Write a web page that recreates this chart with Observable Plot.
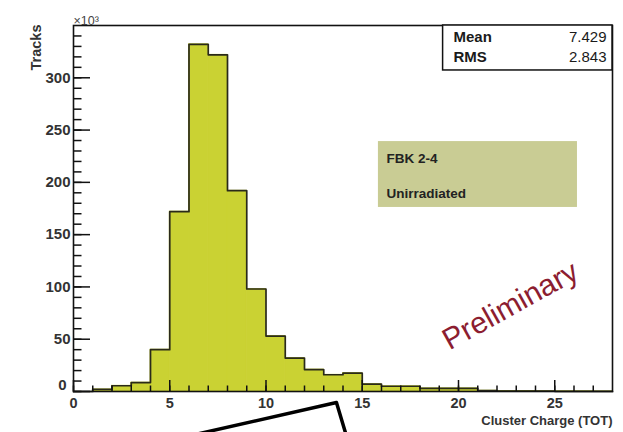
<!DOCTYPE html>
<html>
<head>
<meta charset="utf-8">
<script src="https://cdn.jsdelivr.net/npm/d3@7"></script>
<script src="https://cdn.jsdelivr.net/npm/@observablehq/plot@0.6"></script>
<style>
  html, body { margin: 0; padding: 0; background: #fff; }
  svg { display: block; }
</style>
</head>
<body>
<div id="chart"></div>
<script>
// ---- data ----
const binLow = [0,1,2,3,4,5,6,7,8,9,10,11,12,13,14,15,16,17,18,19,20,21,22,23,24,25,26,27];
const counts = [0,2,5.5,8.5,40,172,332,322,192,98,53,32,21,16,17.5,7,5,5,3,3,3,0.8,0.5,0.4,0.3,0.2,0.2,0.1]; // x10^3
const binWidth = 1;
const xMajor = [0,5,10,15,20,25];
const xMinor = d3.range(0, 28, 1);
const yMajor = [0,50,100,150,200,250,300];
const yMinor = d3.range(0, 350, 10);
const statNames = ["Mean", "RMS"];
const statValues = ["7.429", "2.843"];
const labelLines = ["FBK 2-4", "Unirradiated"];
const watermark = "Preliminary";
const xLabel = "Cluster Charge (TOT)";
const yLabel = "Tracks";
// stray black outline at bottom of the picture (in data units)
const overlayX = [4.94, 13.66, 14.25];
const overlayY = [-46.9, -10.5, -46.9];

const hist = binLow.map((x, i) => ({x1: x, x2: x + binWidth, y: counts[i]}));
const outline = hist.map(d => ({x: d.x1, y: d.y})).concat([{x: hist[hist.length-1].x2, y: hist[hist.length-1].y}]);
const overlay = overlayX.map((x, i) => ({x, y: overlayY[i]}));
const stats = statNames.map((n, i) => ({n, v: statValues[i], y: [338.5, 319.4][i]}));
const labels = labelLines.map((t, i) => ({t, y: [222.8, 189.3][i]}));

const W = 623, H = 432, mL = 73, mT = 25, mR = 11, mB = 41;
const plotW = W - mL - mR, plotH = H - mT - mB;
const font = "Liberation Sans, Arial, Helvetica, sans-serif";
const barFill = "#cad233";

const chart = Plot.plot({
  width: W, height: H,
  marginLeft: mL, marginTop: mT, marginRight: mR, marginBottom: mB,
  style: {fontFamily: font, background: "#fff", overflow: "visible"},
  x: {domain: [0, 28], axis: null},
  y: {domain: [0, 350], axis: null},
  marks: [
    Plot.rectY(hist, {x1: "x1", x2: "x2", y: "y", fill: barFill, stroke: barFill, strokeWidth: 0.8}),
    Plot.line(outline, {x: "x", y: "y", curve: "step-after", stroke: "#2a2a1a", strokeWidth: 1.7}),
    // y ticks (inward)
    Plot.tickY(yMinor, {y: d => d, insetRight: plotW - 8.5, stroke: "#111", strokeWidth: 1.5}),
    Plot.tickY(yMajor, {y: d => d, insetRight: plotW - 17, stroke: "#111", strokeWidth: 1.5}),
    // x ticks (inward)
    Plot.tickX(xMinor, {x: d => d, insetTop: plotH - 5.5, stroke: "#111", strokeWidth: 1.5}),
    Plot.tickX(xMajor, {x: d => d, insetTop: plotH - 11, stroke: "#111", strokeWidth: 1.5}),
    Plot.frame({stroke: "#111", strokeWidth: 1.6}),
    // tick labels
    Plot.text(yMajor.filter(d => d !== 0), {x: 0, y: d => d, text: d => String(d), textAnchor: "end", dx: -3,
      fontSize: 15, fontWeight: "bold", fill: "#333"}),
    Plot.text(yMajor.filter(d => d === 0), {x: 0, y: d => d, text: d => String(d), textAnchor: "end", dx: -7, dy: -6,
      fontSize: 15, fontWeight: "bold", fill: "#333"}),
    Plot.text(xMajor, {x: d => d, y: 0, text: d => String(d), dy: 12, fontSize: 14.5, fontWeight: "bold", fill: "#333"}),
    // axis labels
    Plot.text([yLabel], {frameAnchor: "top-left", text: d => d, rotate: -90, textAnchor: "end", dx: -43, dy: -1,
      fontSize: 14.5, fontWeight: "bold", fill: "#333"}),
    Plot.text(["×10³"], {frameAnchor: "top-left", text: d => d, textAnchor: "start", dx: 0, dy: -9, fontSize: 12.5, fill: "#444"}),
    Plot.text([xLabel], {frameAnchor: "bottom-right", text: d => d, textAnchor: "end", dx: 0, dy: 33, fontSize: 13, fontWeight: "bold", fill: "#333"}),
    // stats box
    Plot.rect([0], {x1: 19.2, x2: 28, y1: 307, y2: 350, fill: "#fff", stroke: "#111", strokeWidth: 1.5}),
    Plot.text(stats, {x: 19.74, y: "y", text: "n", textAnchor: "start", fontSize: 15, fill: "#1a1a1a", fontWeight: "bold"}),
    Plot.text(stats, {x: 27.69, y: "y", text: "v", textAnchor: "end", fontSize: 15, fill: "#1a1a1a"}),
    // label box
    Plot.rect([0], {x1: 15.84, x2: 26.18, y1: 176, y2: 239, fill: "#c9cc94"}),
    Plot.text(labels, {x: 16.26, y: "y", text: "t", textAnchor: "start", fontSize: 13.5, fontWeight: "bold", fill: "#222"}),
    // watermark
    Plot.text([watermark], {x: 22.7, y: 82, text: d => d, rotate: -29, fontSize: 30, fill: "#8c1d30"}),
    // overlay artifact
    Plot.line(overlay, {x: "x", y: "y", stroke: "#000", strokeWidth: 3.5, clip: false})
  ]
});
document.getElementById("chart").appendChild(chart);
</script>
</body>
</html>
